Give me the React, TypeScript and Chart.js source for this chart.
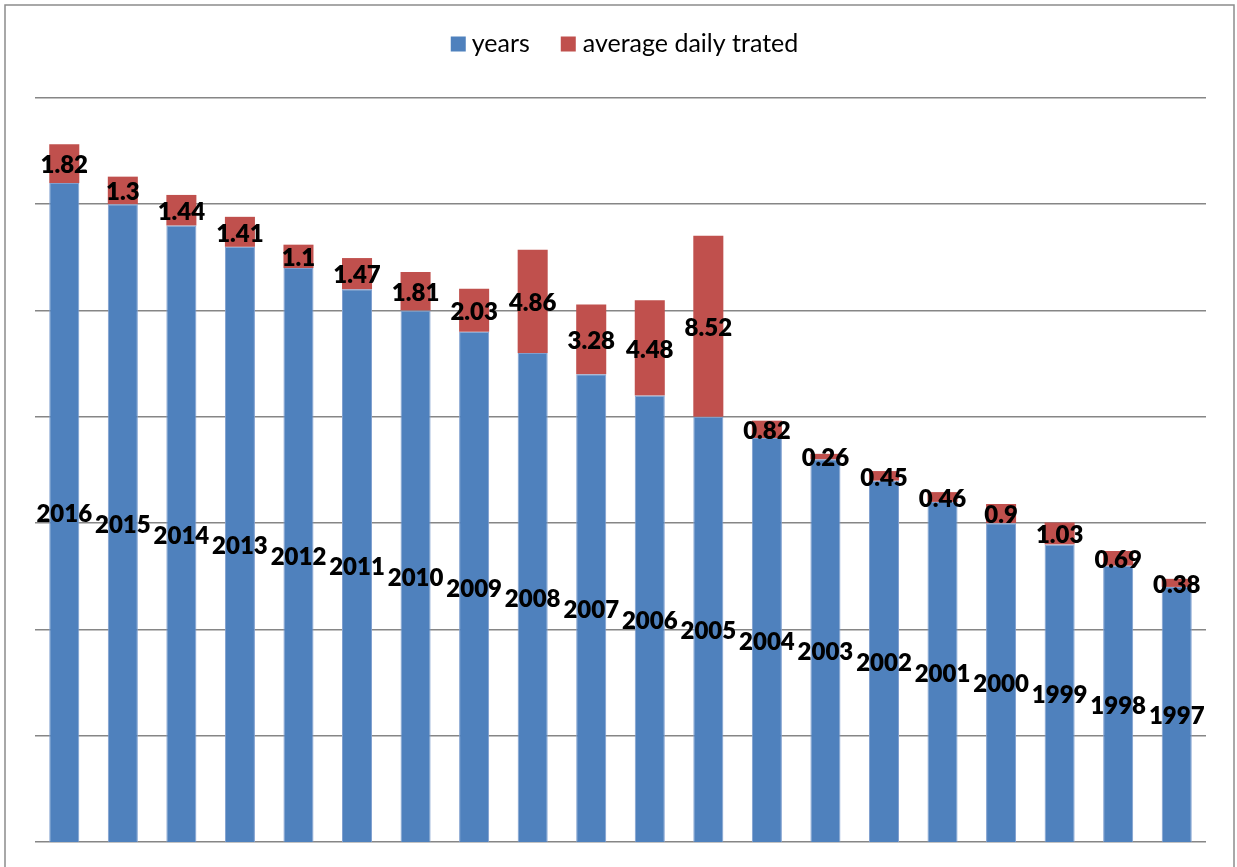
import React, { useEffect, useRef } from "react";
import { Chart, registerables } from "chart.js";

Chart.register(...registerables);

const categories = ["2016","2015","2014","2013","2012","2011","2010","2009","2008","2007","2006","2005","2004","2003","2002","2001","2000","1999","1998","1997"];
const yearsValues = [2016,2015,2014,2013,2012,2011,2010,2009,2008,2007,2006,2005,2004,2003,2002,2001,2000,1999,1998,1997];
const avgDailyValues = [1.82,1.3,1.44,1.41,1.1,1.47,1.81,2.03,4.86,3.28,4.48,8.52,0.82,0.26,0.45,0.46,0.9,1.03,0.69,0.38];
const seriesNames = ["years", "average daily trated"];
const seriesColors = ["#4F81BD", "#C0504D"];

const W = 1237;
const H = 867;
const LABEL_FONT = "800 24px Lato, 'Open Sans', sans-serif";
const LEGEND_FONT = "25px Lato, 'Open Sans', sans-serif";

const framePlugin = {
  id: "frame",
  beforeDraw(chart: any) {
    const ctx = chart.ctx;
    ctx.save();
    ctx.fillStyle = "#ffffff";
    ctx.fillRect(0, 0, chart.width, chart.height);
    ctx.strokeStyle = "#8c8c8c";
    ctx.lineWidth = 1.5;
    ctx.strokeRect(5, 5, 1229, chart.height + 10);
    ctx.restore();
  },
};

const labelsPlugin = {
  id: "barLabels",
  afterDatasetsDraw(chart: any) {
    const ctx = chart.ctx;
    const area = chart.chartArea;
    ctx.save();
    ctx.font = LABEL_FONT;
    ctx.fillStyle = "#000000";
    ctx.textAlign = "center";
    ctx.textBaseline = "middle";
    chart.data.datasets.forEach((ds: any, di: number) => {
      const meta = chart.getDatasetMeta(di);
      meta.data.forEach((el: any, i: number) => {
        const props = el.getProps(["x", "y", "base"], true);
        const top = Math.max(Math.min(props.y, props.base), area.top);
        const bottom = Math.min(Math.max(props.y, props.base), area.bottom);
        const cy = (top + bottom) / 2;
        ctx.fillText(String(ds.data[i]), props.x, cy + 2);
      });
    });
    ctx.restore();
  },
};

const legendPlugin = {
  id: "customLegend",
  afterDraw(chart: any) {
    const ctx = chart.ctx;
    ctx.save();
    ctx.font = LEGEND_FONT;
    ctx.textBaseline = "middle";
    const box = 15;
    const w1 = ctx.measureText(seriesNames[0]).width;
    const w2 = ctx.measureText(seriesNames[1]).width;
    const total = box + 6 + w1 + 31 + box + 7 + w2;
    let x = 624.5 - total / 2;
    const cy = 44;
    ctx.fillStyle = seriesColors[0];
    ctx.fillRect(x, cy - 7.5, box, box);
    x += box + 6;
    ctx.fillStyle = "#000000";
    ctx.fillText(seriesNames[0], x, cy);
    x += w1 + 31;
    ctx.fillStyle = seriesColors[1];
    ctx.fillRect(x, cy - 7.5, box, box);
    x += box + 7;
    ctx.fillStyle = "#000000";
    ctx.fillText(seriesNames[1], x, cy);
    ctx.restore();
  },
};

export default function App() {
  const ref = useRef<HTMLCanvasElement | null>(null);

  useEffect(() => {
    if (!ref.current) return;
    const chart = new Chart(ref.current, {
      type: "bar",
      data: {
        labels: categories,
        datasets: [
          {
            label: seriesNames[0],
            data: yearsValues,
            backgroundColor: seriesColors[0],
            borderColor: "#7f9fcf",
            borderWidth: 1,
            borderSkipped: "bottom",
          },
          {
            label: seriesNames[1],
            data: avgDailyValues,
            backgroundColor: seriesColors[1],
            borderWidth: 0,
          },
        ],
      },
      options: {
        responsive: false,
        animation: false,
        devicePixelRatio: 1,
        layout: { padding: { left: 35, top: 98, right: 31, bottom: 25 } },
        datasets: {
          bar: { barPercentage: 0.513, categoryPercentage: 1 },
        },
        plugins: {
          legend: { display: false },
          tooltip: { enabled: false },
        },
        scales: {
          x: {
            display: false,
            stacked: true,
          },
          y: {
            stacked: true,
            min: 1985,
            max: 2020,
            ticks: { display: false, stepSize: 5 },
            grid: { color: "#868686", lineWidth: 1.6, drawTicks: false },
            border: { display: false },
          },
        },
      },
      plugins: [framePlugin, labelsPlugin, legendPlugin],
    });
    return () => chart.destroy();
  }, []);

  return (
    <div style={{ position: "absolute", left: 0, top: 0, width: W, height: H }}>
      <canvas ref={ref} width={W} height={H} style={{ display: "block" }} />
    </div>
  );
}
